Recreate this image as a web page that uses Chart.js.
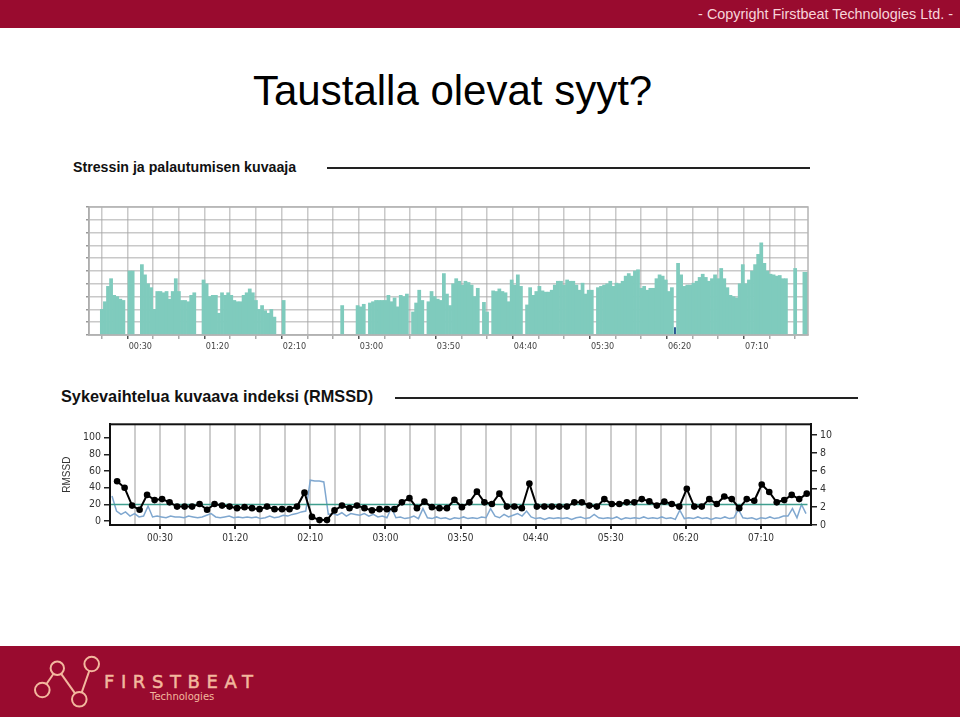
<!DOCTYPE html>
<html>
<head>
<meta charset="utf-8">
<script src="https://cdn.jsdelivr.net/npm/chart.js@4.4.1/dist/chart.umd.min.js"></script>
<style>
  body { margin: 0; width: 960px; height: 720px; position: relative; overflow: hidden; background: #fff;
         font-family: "Liberation Sans", Arial, sans-serif; }
  .topbar { position: absolute; left: 0; top: 0; width: 960px; height: 28px; background: #990b2f; }
  .copy { position: absolute; right: 7px; top: 7px; color: #f7d4da; font-size: 14.4px; line-height: 14px; }
  h1 { position: absolute; left: 253px; top: 70px; margin: 0; font-weight: normal; font-size: 42px; line-height: 42px; color: #000; }
  .ctitle { position: absolute; font-weight: bold; line-height: 1; color: #111; }
  .rule { position: absolute; height: 2px; background: #222; }
  canvas { position: absolute; }
  .footer { position: absolute; left: 0; top: 646px; width: 960px; height: 71px; background: #990b2f; }
  .brand { position: absolute; left: 104px; top: 27px; color: #f3b89e; font-family: "DejaVu Sans", sans-serif;
           font-size: 18px; line-height: 18px; letter-spacing: 6.6px; -webkit-text-stroke: 0.5px #f3b89e; }
  .tech { position: absolute; left: 150px; top: 46px; color: #f3b89e; font-family: "DejaVu Sans", sans-serif;
          font-size: 10px; line-height: 10px; }
</style>
</head>
<body>
<div class="topbar"><div class="copy">- Copyright Firstbeat Technologies Ltd. -</div></div>
<h1>Taustalla olevat syyt?</h1>

<div class="ctitle" style="left:73px;top:160px;font-size:14.2px">Stressin ja palautumisen kuvaaja</div>
<div class="rule" style="left:327px;top:167px;width:483px"></div>
<canvas id="chartStress" width="760" height="165" style="left:60px;top:195px"></canvas>

<div class="ctitle" style="left:61px;top:388px;font-size:16.3px">Sykevaihtelua kuvaava indeksi (RMSSD)</div>
<div class="rule" style="left:395px;top:397px;width:463px"></div>
<canvas id="chartRmssd" width="800" height="130" style="left:50px;top:415px"></canvas>

<div class="footer">
  <svg width="120" height="71" style="position:absolute;left:0;top:0">
    <g stroke="#f3b89e" stroke-width="2" fill="#990b2f">
      <line x1="42.3" y1="44" x2="57.3" y2="22.3"/>
      <line x1="57.3" y1="22.3" x2="79.3" y2="53.3"/>
      <line x1="79.3" y1="53.3" x2="91.7" y2="18"/>
      <circle cx="42.3" cy="44" r="7.3"/>
      <circle cx="57.3" cy="22.3" r="6.7"/>
      <circle cx="79.3" cy="53.3" r="7.3"/>
      <circle cx="91.7" cy="18" r="7.3"/>
    </g>
  </svg>
  <div class="brand">FIRSTBEAT</div>
  <div class="tech">Technologies</div>
</div>

<script>
// =========================================================
// DATOS (minutos desde las 00:00)
// =========================================================
const AXIS_MIN  = -10 / 3;     // 23:56:40
const AXIS_MAX  = 463 + 1 / 3; // 07:43:20
const GRID_STEP = 50 / 3;      // una línea vertical cada 16 min 40 s

const timeLabels = ['00:30', '01:20', '02:10', '03:00', '03:50', '04:40', '05:30', '06:20', '07:10'];

// Stressi: pylväs 2 min välein, 0 = ei pylvästä
const stressBinStart = 0;
const stressBinWidth = 2;
const stressValues = [
  0, 0, 2.0, 2.6, 3.8, 4.4, 3.1, 3.0, 2.8, 2.7,
  0, 5.0, 5.0, 0, 0, 5.5, 4.7, 4.0, 3.7, 2.0,
  3.4, 3.4, 3.3, 3.4, 2.8, 3.4, 4.4, 3.4, 2.7, 2.7,
  2.6, 3.1, 3.3, 0, 0, 4.3, 4.0, 3.0, 3.1, 3.1,
  1.7, 3.3, 3.1, 3.3, 3.1, 2.7, 2.6, 2.6, 3.1, 3.3,
  3.6, 3.3, 2.7, 2.0, 2.3, 1.9, 1.7, 2.0, 1.4, 0,
  0, 2.7, 0, 0, 0, 0, 0, 0, 0, 0,
  0, 0, 0, 0, 0, 0, 0, 0, 0, 0,
  2.3, 0, 0, 0, 0, 2.3, 2.2, 2.4, 0, 2.5,
  2.6, 2.7, 2.7, 2.7, 2.7, 3.1, 2.6, 2.9, 2.2, 3.1,
  3.0, 3.2, 0, 1.8, 2.5, 3.5, 2.7, 0, 2.6, 3.4,
  3.0, 2.8, 2.7, 4.8, 3.2, 2.3, 4.0, 4.4, 4.2, 3.9,
  4.2, 4.1, 3.9, 3.0, 3.65, 0, 2.55, 1.8, 0, 3.45,
  3.4, 3.6, 3.4, 3.3, 2.6, 4.3, 3.9, 4.7, 3.8, 0,
  2.35, 3.7, 3.1, 3.4, 3.8, 3.45, 3.35, 3.35, 3.5, 3.9,
  4.2, 4.2, 3.9, 4.3, 4.2, 4.2, 3.9, 3.5, 4.05, 3.2,
  3.5, 3.5, 0, 3.7, 3.8, 3.9, 4.0, 4.2, 3.8, 4.05,
  4.0, 4.2, 4.6, 4.8, 4.6, 5.0, 5.1, 3.65, 3.8, 3.5,
  3.65, 3.65, 4.4, 4.7, 4.6, 4.3, 3.4, 3.7, 0, 5.6,
  4.7, 3.8, 3.9, 3.9, 4.05, 4.2, 4.5, 4.75, 4.5, 4.2,
  4.4, 4.7, 4.4, 5.2, 4.4, 3.7, 3.1, 3.0, 2.9, 4.0,
  5.5, 4.0, 4.3, 5.0, 5.5, 6.3, 7.2, 5.6, 5.0, 4.75,
  4.7, 4.6, 4.65, 4.4, 4.4, 0, 0, 5.2, 0, 0,
  4.9, 4.9
];
const stressGrid = [0, 1, 2, 3, 4, 5, 6, 7, 8, 9, 10];

// pieni tummansininen merkki (palautuminen)
const markTimes  = [377];
const markValues = [0.6];

// RMSSD 5 min keskiarvot (mustat pisteet)
const rmssdStart = 1.4;
const rmssdStep  = 4.99;
const rmssdValues = [
  47.7, 40, 18.6, 13.6, 31.4, 25.2, 26.4, 22.5, 17.4, 17.4,
  17.4, 20.5, 13.6, 20.5, 18.6, 17.4, 15.5, 16.7, 15.5, 14.3,
  17.4, 14.3, 14.3, 14.3, 17.4, 34.1, 5, 1.2, 1.2, 12.8,
  18.6, 15.5, 18.6, 15.5, 12.8, 14.3, 14.3, 14.3, 22.5, 27.5,
  15.5, 23.3, 16.7, 15.5, 15.5, 25.6, 16.7, 22.5, 35.3, 22.5,
  20.5, 32.9, 17.4, 17.4, 15.5, 45, 17.4, 17.4, 17.4, 17.4,
  17.4, 22.5, 22.5, 18.6, 17.4, 26.4, 20.5, 20.5, 22.5, 22.5,
  26.4, 23.6, 18.6, 23.3, 20.5, 17.4, 38.8, 17.4, 17.4, 26.4,
  20.5, 29.5, 26.4, 15.5, 26.4, 24.4, 43.8, 34.9, 22.5, 25.2,
  31.4, 26.4, 32.9
];

// RMSSD tiheämpi käyrä (vaaleansininen), 3 min välein
const rawStart = -2;
const rawStep  = 3;
const rawValues = [
  30, 12, 8, 11, 6, 9, 5, 6, 18, 5,
  6, 5, 4, 6, 5, 5, 4, 6, 5, 4,
  5, 7, 9, 5, 4, 5, 6, 4, 5, 4,
  5, 4, 5, 3, 4, 6, 4, 5, 7, 6,
  8, 9, 11, 12, 49, 48, 48, 47, 8, 9,
  7, 10, 6, 9, 8, 7, 9, 6, 8, 5,
  6, 4, 16, 4, 5, 3, 4, 6, 3, 15,
  4, 3, 5, 3, 4, 2, 4, 3, 5, 3,
  4, 3, 5, 4, 15, 6, 4, 8, 5, 7,
  9, 6, 12, 5, 3, 4, 2, 4, 3, 4,
  3, 4, 2, 4, 5, 3, 4, 8, 4, 3,
  4, 3, 5, 2, 4, 3, 4, 3, 5, 3,
  4, 3, 5, 3, 4, 2, 13, 3, 4, 3,
  5, 3, 4, 2, 4, 3, 5, 3, 4, 14,
  4, 3, 4, 2, 4, 3, 5, 3, 4, 6,
  6, 15, 4, 20, 9
];

const rmssdReference = 20;
const referenceEnd   = 461;

const leftTicks  = [0, 20, 40, 60, 80, 100];
const rightTicks = [0, 2, 4, 6, 8, 10];

// =========================================================
// APUFUNKTIOT
// =========================================================
function hhmm(m) {
  m = Math.round(m);
  m = ((m % 1440) + 1440) % 1440;
  return String(Math.floor(m / 60)).padStart(2, '0') + ':' + String(m % 60).padStart(2, '0');
}

function timeTicks(scale) {
  const t = [];
  for (let v = AXIS_MIN; v <= AXIS_MAX + 0.01; v += GRID_STEP) t.push({ value: v });
  scale.ticks = t;
}

function timeLabel(v) {
  const s = hhmm(v);
  return timeLabels.includes(s) ? s : '';
}

function tickIsLabelled(c) {
  return !!(c && c.tick && timeLabel(c.tick.value));
}

const framePlugin = {
  id: 'frame',
  afterDraw(chart, args, opts) {
    const { ctx, chartArea: a } = chart;
    ctx.save();
    ctx.strokeStyle = opts.color;
    ctx.lineWidth = opts.width;
    ctx.strokeRect(a.left, a.top, a.right - a.left, a.bottom - a.top);
    ctx.restore();
  }
};

const tickFont = { family: "'Liberation Sans Narrow', 'DejaVu Sans Condensed', 'Liberation Sans', Arial", size: 10 };

// =========================================================
// KAAVIO 1: STRESSI
// =========================================================
new Chart(document.getElementById('chartStress'), {
  type: 'bar',
  plugins: [framePlugin],
  data: {
    datasets: [
      {
        data: stressValues.map((v, i) => ({ x: stressBinStart + stressBinWidth * i + 1, y: v || null })),
        backgroundColor: '#7fcbbd',
        barPercentage: 1, categoryPercentage: 1, grouped: false
      },
      {
        data: markTimes.map((t, i) => ({ x: t, y: markValues[i] })),
        backgroundColor: '#1c4f8c',
        barPercentage: 0.6, categoryPercentage: 1, grouped: false
      }
    ]
  },
  options: {
    responsive: false, animation: false,
    layout: { padding: { top: 12, right: 12, left: 0, bottom: 0 } },
    plugins: { legend: { display: false }, tooltip: { enabled: false }, frame: { color: '#b4b4b4', width: 1.5 } },
    scales: {
      x: {
        type: 'linear', min: AXIS_MIN, max: AXIS_MAX, offset: false, z: 1,
        afterBuildTicks: timeTicks,
        afterFit: s => { s.height = 25; },
        grid: { color: 'rgba(165,165,165,0.6)', lineWidth: 1.5, tickLength: 4,
                tickColor: c => tickIsLabelled(c) ? '#555' : '#aaa' },
        border: { color: '#aaa', width: 1.5 },
        ticks: { autoSkip: false, maxRotation: 0, padding: 2, color: '#444', font: { ...tickFont, size: 9 },
                 callback: v => timeLabel(v) }
      },
      y: {
        min: 0, max: 10, z: 1,
        afterBuildTicks: s => { s.ticks = stressGrid.map(v => ({ value: v })); },
        afterFit: s => { s.width = 29; },
        grid: { color: 'rgba(165,165,165,0.6)', lineWidth: 1.5, tickLength: 3, tickColor: '#999' },
        border: { color: '#999', width: 1.5 },
        ticks: { display: false }
      }
    }
  }
});

// =========================================================
// KAAVIO 2: RMSSD
// =========================================================
new Chart(document.getElementById('chartRmssd'), {
  type: 'line',
  plugins: [framePlugin],
  data: {
    datasets: [
      {
        data: rmssdValues.map((v, i) => ({ x: rmssdStart + rmssdStep * i, y: v })),
        borderColor: '#000', backgroundColor: '#000', borderWidth: 2,
        pointRadius: 3.3, pointBorderWidth: 0, tension: 0, yAxisID: 'y'
      },
      {
        data: [{ x: AXIS_MIN, y: rmssdReference }, { x: referenceEnd, y: rmssdReference }],
        borderColor: '#3f9e8e', borderWidth: 1.5, pointRadius: 0, yAxisID: 'y'
      },
      {
        data: rawValues.map((v, i) => ({ x: rawStart + rawStep * i, y: v })),
        borderColor: '#7fa7cf', borderWidth: 1.5, pointRadius: 0, tension: 0, yAxisID: 'y'
      }
    ]
  },
  options: {
    responsive: false, animation: false,
    layout: { padding: { top: 7, right: 9, left: 7, bottom: 0 } },
    plugins: { legend: { display: false }, tooltip: { enabled: false }, frame: { color: '#111', width: 2 } },
    scales: {
      x: {
        type: 'linear', min: AXIS_MIN, max: AXIS_MAX,
        afterBuildTicks: timeTicks,
        afterFit: s => { s.height = 20; },
        grid: { color: '#cdcdcd', lineWidth: 2, tickLength: 4,
                tickColor: c => tickIsLabelled(c) ? '#222' : 'rgba(0,0,0,0)' },
        border: { color: '#111', width: 2 },
        ticks: { autoSkip: false, maxRotation: 0, padding: 3, color: '#333', font: tickFont,
                 callback: v => timeLabel(v) }
      },
      y: {
        position: 'left', min: -4.69, max: 116.1,
        afterBuildTicks: s => { s.ticks = leftTicks.map(v => ({ value: v })); },
        afterFit: s => { s.width = 53; },
        grid: { drawOnChartArea: false, tickLength: 6, tickColor: '#222', lineWidth: 1.5 },
        border: { color: '#111', width: 2 },
        ticks: { padding: 3, color: '#333', font: { ...tickFont, size: 10.5 } },
        title: { display: true, text: 'RMSSD', color: '#333', padding: { top: 4, bottom: 0 },
                 font: { family: "'Liberation Sans', Arial", size: 10 } }
      },
      y2: {
        position: 'right', min: 0, max: 11.16,
        afterBuildTicks: s => { s.ticks = rightTicks.map(v => ({ value: v })); },
        afterFit: s => { s.width = 30; },
        grid: { drawOnChartArea: false, tickLength: 6, tickColor: '#222', lineWidth: 1.5 },
        border: { color: '#111', width: 2 },
        ticks: { padding: 3, color: '#333', font: { ...tickFont, size: 10.5 } }
      }
    }
  }
});
</script>
</body>
</html>
